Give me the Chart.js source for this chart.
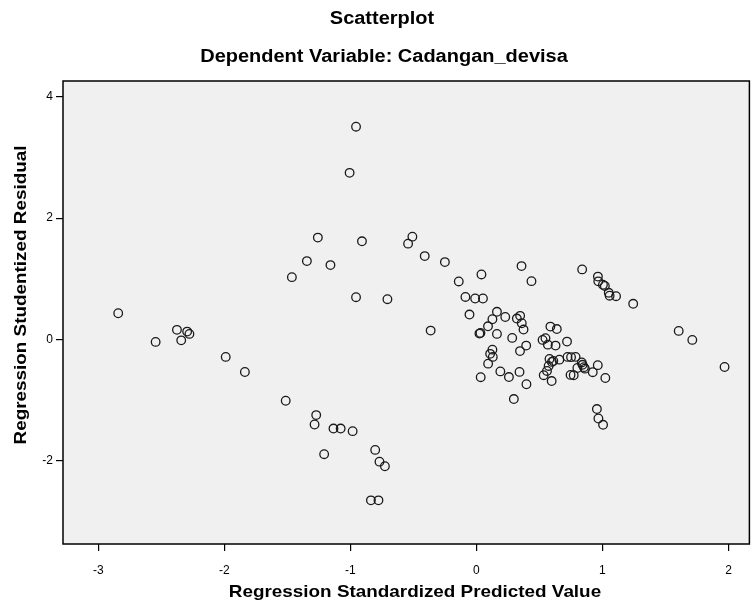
<!DOCTYPE html>
<html>
<head>
<meta charset="utf-8">
<script src="https://cdn.jsdelivr.net/npm/chart.js@4"></script>
<style>
    body { margin: 0; background: #ffffff; }
    #wrap { width: 755px; height: 602px; }
</style>
</head>
<body>
<div id="wrap"><canvas id="residualCanvas" width="755" height="602"></canvas></div>
<script>
// regression standardized predicted value (x) and studentized residual (y)
const predicted = [
    -2.842, -2.376, -2.295, -2.277, -2.545, -2.342, -1.989, -1.837, -1.513, -1.464,
    -1.345, -1.158, -1.258, -0.955, -1.006, -0.908, -0.955, -0.706, -0.508, -0.542,
    -0.410, -0.250, -0.140, 0.040, 0.358, 0.437, -0.087, -0.010, 0.052, -0.055,
    0.163, 0.127, 0.229, 0.321, 0.347, 0.360, 0.374, 0.092, 0.024, 0.032,
    0.163, 0.284, -0.363, 0.395, 0.346, 0.127, 0.109, 0.130, 0.093, 0.190,
    0.258, 0.342, 0.034, 0.397, 0.297, 0.587, 0.638, 0.525, 0.548, 0.567,
    0.628, 0.719, 0.580, 0.599, 0.610, 0.658, 0.573, 0.560, 0.534, 0.597,
    0.723, 0.751, 0.787, 0.836, 0.842, 0.853, 0.861, 0.801, 0.747, 0.772,
    0.923, 0.963, 1.023, 0.956, 0.968, 1.005, 1.605, 1.713, 1.969, 0.839,
    0.964, 0.967, 1.004, 1.019, 1.050, 1.057, 1.108, 1.244, -1.271, -1.284,
    -1.134, -1.077, -0.982, -1.208, -0.803, -0.769, -0.726, -0.837, -0.777
];
const residual = [
    0.430, 0.156, 0.127, 0.089, -0.043, -0.017, -0.291, -0.540, -1.015, 1.026,
    1.291, 1.225, 1.679, 3.510, 2.748, 1.618, 0.695, 0.662, 1.695, 1.579,
    1.374, 1.275, 0.955, 1.071, 1.209, 0.960, 0.699, 0.674, 0.674, 0.409,
    0.454, 0.331, 0.368, 0.343, 0.387, 0.265, 0.161, 0.215, 0.094, 0.106,
    0.089, 0.023, 0.144, -0.104, -0.195, -0.171, -0.240, -0.291, -0.402, -0.530,
    -0.623, -0.538, -0.626, -0.742, -0.987, 0.210, 0.169, -0.010, 0.017, -0.088,
    -0.104, -0.038, -0.325, -0.373, -0.358, -0.336, -0.440, -0.523, -0.593, -0.689,
    -0.291, -0.295, -0.291, -0.382, -0.421, -0.460, -0.485, -0.474, -0.588, -0.593,
    -0.543, -0.427, -0.639, -1.152, -1.308, -1.412, 0.139, -0.010, -0.457, 1.154,
    1.035, 0.957, 0.901, 0.881, 0.768, 0.720, 0.712, 0.586, -1.252, -1.407,
    -1.474, -1.474, -1.517, -1.897, -1.826, -2.020, -2.096, -2.659, -2.659
];
const xTicks = [-3, -2, -1, 0, 1, 2];
const yTicks = [-2, 0, 2, 4];

const fontFamily = "'Liberation Sans', Arial, sans-serif";

const puntos = predicted.map((v, i) => ({ x: v, y: residual[i] }));

// text a bit wider than plain Arial, like the SPSS export
function textoAncho(ctx, texto, x, y, size, ang) {
    ctx.save();
    ctx.translate(x, y);
    if (ang) ctx.rotate(ang);
    ctx.scale(1.11, 1);
    ctx.font = 'bold ' + size + 'px ' + fontFamily;
    ctx.fillText(texto, 0, 0);
    ctx.restore();
}

// gray plot background, frame and the titles
const marcoSpss = {
    id: 'marcoSpss',
    beforeDatasetsDraw(chart) {
        const a = chart.chartArea;
        const ctx = chart.ctx;
        ctx.save();
        ctx.fillStyle = '#f0f0f0';
        ctx.fillRect(a.left, a.top, a.right - a.left, a.bottom - a.top);
        ctx.restore();
    },
    afterDraw(chart) {
        const a = chart.chartArea;
        const ctx = chart.ctx;
        ctx.save();
        ctx.strokeStyle = '#000';
        ctx.lineWidth = 1.5;
        ctx.strokeRect(a.left, a.top, a.right - a.left, a.bottom - a.top);

        ctx.fillStyle = '#000';
        ctx.textAlign = 'center';
        ctx.textBaseline = 'middle';
        textoAncho(ctx, 'Scatterplot', 382, 19, 18);
        textoAncho(ctx, 'Dependent Variable: Cadangan_devisa', 384, 57, 18);
        textoAncho(ctx, 'Regression Standardized Predicted Value', 415, 592, 17);
        textoAncho(ctx, 'Regression Studentized Residual', 21, 295, 17, -Math.PI / 2);
        ctx.restore();
    }
};

const ctx = document.getElementById('residualCanvas').getContext('2d');
new Chart(ctx, {
    type: 'scatter',
    data: {
        datasets: [{
            label: 'Residual',
            data: puntos,
            pointStyle: 'circle',
            pointRadius: 4.3,
            pointHoverRadius: 4.3,
            pointBorderWidth: 1.3,
            borderColor: '#1a1a1a',
            backgroundColor: 'rgba(0,0,0,0)'
        }]
    },
    options: {
        responsive: false,
        animation: false,
        layout: {
            padding: { top: 81, right: 3, left: 0, bottom: 0 }
        },
        plugins: {
            legend: { display: false },
            tooltip: { enabled: false }
        },
        scales: {
            x: {
                type: 'linear',
                min: -3.28,
                max: 2.166,
                afterFit: function (scale) { scale.height = 58; },
                afterBuildTicks: function (scale) { scale.ticks = xTicks.map(v => ({ value: v })); },
                border: { display: false },
                grid: {
                    drawOnChartArea: false,
                    drawTicks: true,
                    tickLength: 7,
                    color: '#000',
                    lineWidth: 1.2
                },
                ticks: {
                    color: '#000',
                    padding: 12,
                    font: { family: fontFamily, size: 12 }
                }
            },
            y: {
                type: 'linear',
                min: -3.38,
                max: 4.265,
                afterFit: function (scale) { scale.width = 63; },
                afterBuildTicks: function (scale) { scale.ticks = yTicks.map(v => ({ value: v })); },
                border: { display: false },
                grid: {
                    drawOnChartArea: false,
                    drawTicks: true,
                    tickLength: 7,
                    color: '#000',
                    lineWidth: 1.2
                },
                ticks: {
                    color: '#000',
                    padding: 3,
                    font: { family: fontFamily, size: 12 }
                }
            }
        }
    },
    plugins: [marcoSpss]
});
</script>
</body>
</html>
